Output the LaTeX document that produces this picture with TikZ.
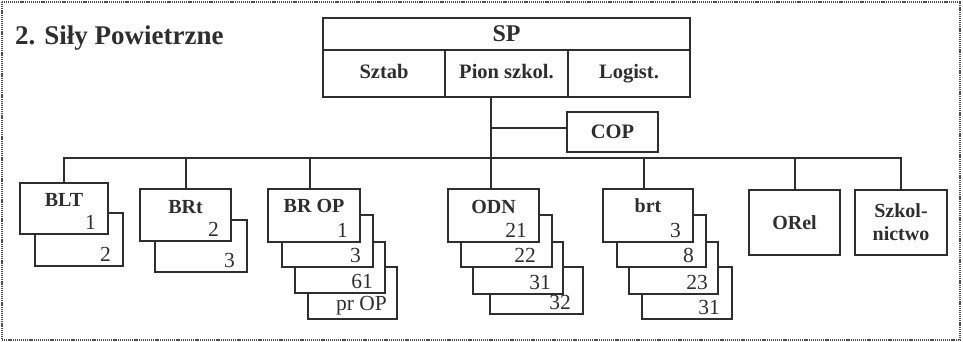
\documentclass[tikz,border=0pt]{standalone}
\usepackage{fontspec}
\setmainfont{Liberation Serif}
\usetikzlibrary{positioning}
\definecolor{ink}{gray}{0.18}
\tikzset{
  box/.style={draw=ink, line width=2.2pt, fill=white, outer sep=0pt, inner sep=0pt,
    minimum width=91pt, minimum height=52pt},
  unit/.style={box, minimum width=122.5pt, minimum height=47pt, text=ink,
    font=\fontsize{20.5}{23}\selectfont\bfseries, text height=14pt, text depth=4pt},
  head/.style={inner sep=0pt, text=ink, font=\fontsize{20}{23}\selectfont\bfseries},
  num/.style={anchor=south east, inner xsep=12pt, inner ysep=4pt, text=ink,
    font=\fontsize{21.5}{23}\selectfont},
  wire/.style={draw=ink, line width=2pt},
  dotframe/.style={draw=ink!85, line width=1.6pt, dash pattern=on 1.2pt off 0.9pt}
}
\begin{document}
\begin{tikzpicture}[x=1pt, y=-1pt]
\useasboundingbox (0,0) rectangle (963,342);
\draw [dotframe] (2,2) rectangle (960,340);
\node (title) [anchor=base west, inner sep=0pt, text=ink,
  font=\fontsize{27}{30}\selectfont\bfseries] at (15,45) {2. Siły Powietrzne};

% top: SP and its three parts
\node (sp) [box, minimum width=367.5pt, minimum height=32pt, text=ink,
  font=\fontsize{24}{26}\selectfont\bfseries] at (506.5,34) {SP};
\node (sztab) [unit, anchor=north west] at (sp.south west) {Sztab};
\node (pion) [unit, anchor=west] at (sztab.east) {Pion szkol.};
\node (logist) [unit, anchor=west] at (pion.east) {Logist.};
\node (cop) [box, head, minimum width=91pt, minimum height=40pt,
  font=\fontsize{20.5}{23}\selectfont\bfseries] at (612.5,132) {COP};

% BLT
\node (BLT2) [box, minimum width=88pt, minimum height=53pt] at (79,239.5) {};
\node (BLT2num) [num] at (BLT2.south east) {2};
\node (BLT) [box, minimum width=88pt, minimum height=51pt] at (64,208.5) {};
\node (BLT1num) [num] at (BLT.south east) {1};
\node (BLTname) [head, below=10pt of BLT.north] {BLT};

% BRt
\node (BRt2) [box, minimum width=92pt] at (201,246) {};
\node (BRt2num) [num] at (BRt2.south east) {3};
\node (BRt) [box] at (185.5,215) {};
\node (BRt1num) [num] at (BRt.south east) {2};
\node (BRtname) [head, below=11pt of BRt.north] {BRt};

% BR OP
\node (BROP4) [box, minimum width=89pt] at (352.5,293) {};
\node (BROP4num) [num, inner xsep=10pt] at (BROP4.south east) {pr OP};
\node (BROP3) [box, minimum width=90pt, minimum height=51pt] at (340,267.5) {};
\node (BROP3num) [num] at (BROP3.south east) {61};
\node (BROP2) [box] at (327.5,241) {};
\node (BROP2num) [num] at (BROP2.south east) {3};
\node (BROP) [box, minimum width=92pt, minimum height=53pt] at (314,215.5) {};
\node (BROP1num) [num] at (BROP.south east) {1};
\node (BROPname) [head, below=10pt of BROP.north] {BR OP};

% ODN
\node (ODN4) [box, minimum width=93pt, minimum height=47pt] at (536.5,290.5) {};
\node (ODN4num) [num] at (ODN4.south east) {32};
\node (ODN3) [box, minimum width=90pt] at (518,268) {};
\node (ODN3num) [num] at (ODN3.south east) {31};
\node (ODN2) [box] at (506.5,241) {};
\node (ODN2num) [num, inner xsep=16pt] at (ODN2.south east) {22};
\node (ODN) [box, minimum height=53pt] at (493.5,215.5) {};
\node (ODN1num) [num] at (ODN.south east) {21};
\node (ODNname) [head, below=11pt of ODN.north] {ODN};

% brt
\node (brt4) [box, minimum width=90pt] at (687,293) {};
\node (brt4num) [num] at (brt4.south east) {31};
\node (brt3) [box, minimum width=89pt] at (673.5,268) {};
\node (brt3num) [num, inner xsep=10pt] at (brt3.south east) {23};
\node (brt2) [box, minimum width=89pt] at (661.5,241) {};
\node (brt2num) [num] at (brt2.south east) {8};
\node (brt) [box, minimum width=90pt, minimum height=53pt] at (648,215.5) {};
\node (brt1num) [num] at (brt.south east) {3};
\node (brtname) [head, below=9pt of brt.north] {brt};

% ORel, Szkolnictwo
\node (ORel) [box, head, minimum width=91pt, minimum height=65pt] at (794.5,222.5) {ORel};
\node (Szk) [box, head, align=center, minimum width=92pt, minimum height=65pt]
  at (901,222.5) {Szkol-\\nictwo};

% connectors
\coordinate (bus) at (0,158);
\coordinate (trunk) at ([xshift=-3pt]ODN.north);
\draw [wire] (trunk) -- (trunk |- pion.south);
\draw [wire] ([yshift=4pt]cop.west) -- ([yshift=4pt]cop.west -| trunk);
\draw [wire] (BLT.north) |- (bus -| Szk.north) -- (Szk.north);
\draw [wire] (BRt.north) -- (BRt.north |- bus);
\draw [wire] ([xshift=-4pt]BROP.north) -- ([xshift=-4pt]BROP.north |- bus);
\draw [wire] ([xshift=-4pt]brt.north) -- ([xshift=-4pt]brt.north |- bus);
\draw [wire] (ORel.north) -- (ORel.north |- bus);
\end{tikzpicture}
\end{document}
